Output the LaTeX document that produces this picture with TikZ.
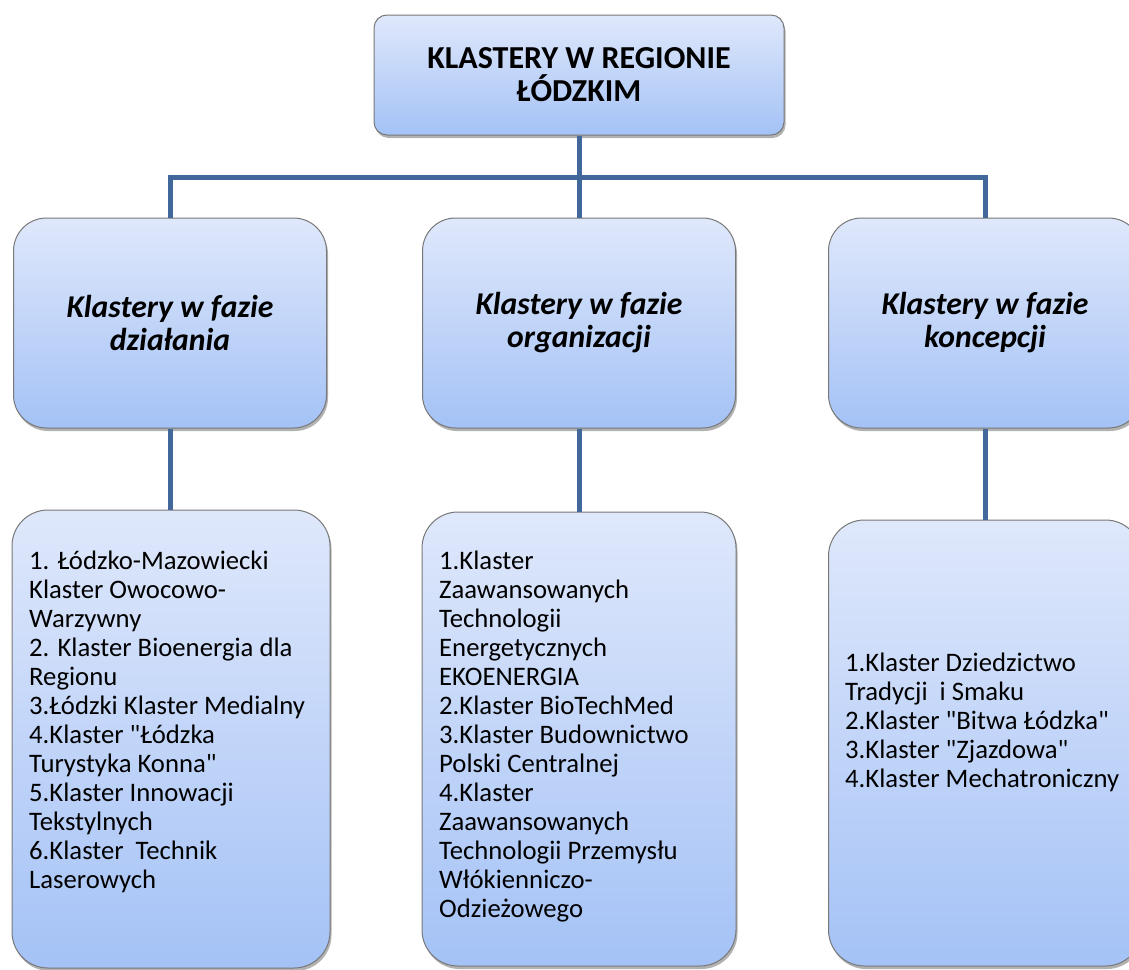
\documentclass[tikz,border=0pt]{standalone}
\usepackage{fontspec}
\setmainfont{Carlito}
\usetikzlibrary{positioning,shadows}
\definecolor{boxtop}{RGB}{223,232,251}
\definecolor{boxbottom}{RGB}{164,194,246}
\definecolor{boxline}{RGB}{120,120,120}
\definecolor{linkblue}{RGB}{65,103,155}

\begin{document}
\begin{tikzpicture}[x=1pt,y=-1pt,
  box/.style={draw=boxline,line width=1pt,top color=boxtop,bottom color=boxbottom,
    drop shadow={shadow xshift=1.5pt,shadow yshift=-3pt,fill=black,opacity=0.3},
    inner sep=0pt,align=center},
  phase/.style={box,rounded corners=33pt,minimum width=313pt,minimum height=210pt,
    font=\bfseries\itshape\fontsize{31.7}{33}\selectfont},
  group/.style={box,rounded corners=36pt},
  members/.style={anchor=west,align=left,inner sep=0pt,font=\fontsize{26.7}{29}\selectfont},
  link/.style={draw=linkblue,line width=5pt}]
  \useasboundingbox (0,0) rectangle (1129,969);
  % Root
  \node[box,rounded corners=13pt,minimum width=410pt,minimum height=120pt,
    font=\bfseries\fontsize{32}{33}\selectfont] (root) at (579,75) {KLASTERY W REGIONIE\\ŁÓDZKIM};
  % Phases
  \node[phase] (phase1) at (170,323) {Klastery w fazie\\działania};
  \node[phase] (phase2) at (579,323) {Klastery w fazie\\organizacji};
  \node[phase] (phase3) at (985,323) {Klastery w fazie\\koncepcji};
  % Cluster lists
  \node[group,minimum width=318pt,minimum height=458pt] (group1) at (171,739) {};
  \node[group,minimum width=314pt,minimum height=454pt] (group2) at (579,739) {};
  \node[group,minimum width=313pt,minimum height=446pt] (group3) at (985,743) {};
  \node[members] (members1) at (29,722) {1. Łódzko-Mazowiecki\\Klaster Owocowo-\\Warzywny\\2. Klaster Bioenergia dla\\Regionu\\3.Łódzki Klaster Medialny\\4.Klaster \textquotedbl Łódzka\\Turystyka Konna\textquotedbl\\5.Klaster Innowacji\\Tekstylnych\\6.Klaster~~Technik\\Laserowych};
  \node[members] (members2) at (439,737) {1.Klaster\\Zaawansowanych\\Technologii\\Energetycznych\\EKOENERGIA\\2.Klaster BioTechMed\\3.Klaster Budownictwo\\Polski Centralnej\\4.Klaster\\Zaawansowanych\\Technologii Przemysłu\\Włókienniczo-\\Odzieżowego};
  \node[members] (members3) at (845,722) {1.Klaster Dziedzictwo\\Tradycji~~i Smaku\\2.Klaster \textquotedbl Bitwa Łódzka\textquotedbl\\3.Klaster \textquotedbl Zjazdowa\textquotedbl\\4.Klaster Mechatroniczny};
  % Connectors
  \coordinate (split) at (579,177);
  \draw[link] (root.south) -- (split);
  \draw[link] (phase1.north) |- (split) -| (phase3.north);
  \draw[link] (split) -- (phase2.north);
  \draw[link] (phase1.south) -- (phase1.south |- group1.north);
  \draw[link] (phase2.south) -- (group2.north);
  \draw[link] (phase3.south) -- (group3.north);
\end{tikzpicture}
\end{document}
